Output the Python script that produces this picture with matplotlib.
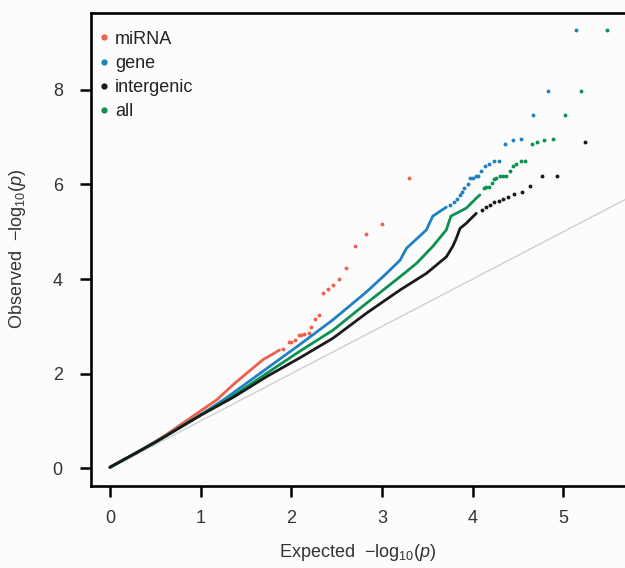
import numpy as np
import matplotlib
matplotlib.use("Agg")
import matplotlib.pyplot as plt
from matplotlib.lines import Line2D

plt.rcParams['font.family'] = ['Liberation Sans', 'DejaVu Sans']
plt.rcParams['mathtext.fontset'] = 'custom'
plt.rcParams['mathtext.rm'] = 'Liberation Sans'
plt.rcParams['mathtext.it'] = 'Liberation Sans:italic'

# dense part of each QQ curve
mirna_x = [0, 0.30, 0.62, 0.99, 1.18, 1.36, 1.54, 1.69, 1.80, 1.87]
mirna_y = [0.03, 0.33, 0.71, 1.20, 1.45, 1.77, 2.06, 2.30, 2.42, 2.50]
gene_x = [0, 0.50, 1.00, 1.27, 1.73, 2.09, 2.46, 2.83, 3.05, 3.20, 3.27, 3.49, 3.56, 3.71]
gene_y = [0.02, 0.55, 1.13, 1.47, 2.11, 2.61, 3.14, 3.73, 4.12, 4.40, 4.65, 5.04, 5.33, 5.52]
inter_x = [0, 0.50, 1.00, 1.36, 1.73, 2.09, 2.46, 2.83, 3.20, 3.49, 3.71, 3.78, 3.82, 3.86, 3.93, 4.04]
inter_y = [0.02, 0.55, 1.12, 1.50, 1.94, 2.33, 2.75, 3.28, 3.77, 4.12, 4.47, 4.69, 4.86, 5.07, 5.18, 5.39]
all_x = [0, 0.50, 1.00, 1.32, 1.73, 2.09, 2.46, 2.83, 3.20, 3.38, 3.56, 3.71, 3.76, 3.86, 3.93, 4.04, 4.08]
all_y = [0.02, 0.55, 1.13, 1.48, 2.01, 2.47, 2.92, 3.49, 4.05, 4.33, 4.69, 5.04, 5.33, 5.43, 5.50, 5.71, 5.78]

# sparse tails (individual points)
mirna_tx = [1.91, 1.98, 2.00, 2.04, 2.08, 2.11, 2.14, 2.19, 2.22, 2.26, 2.30, 2.35, 2.40, 2.46,
            2.53, 2.60, 2.70, 2.82, 3.00, 3.30]
mirna_ty = [2.52, 2.66, 2.68, 2.71, 2.82, 2.82, 2.84, 2.85, 2.99, 3.15, 3.25, 3.70, 3.79, 3.88,
            4.01, 4.24, 4.69, 4.95, 5.16, 6.13]
gene_tx = [3.75, 3.79, 3.83, 3.86, 3.88, 3.91, 3.95, 3.97, 4.00, 4.04, 4.06, 4.09, 4.14, 4.18,
           4.23, 4.29, 4.36, 4.44, 4.53, 4.66, 4.83, 5.14]
gene_ty = [5.56, 5.63, 5.70, 5.78, 5.85, 5.92, 6.02, 6.13, 6.13, 6.18, 6.18, 6.29, 6.39, 6.44,
           6.50, 6.50, 6.86, 6.93, 6.96, 7.47, 7.97, 9.27]
inter_tx = [4.10, 4.15, 4.19, 4.24, 4.29, 4.34, 4.39, 4.46, 4.54, 4.63, 4.76, 4.93, 5.24]
inter_ty = [5.46, 5.53, 5.57, 5.62, 5.66, 5.69, 5.73, 5.79, 5.83, 5.97, 6.18, 6.18, 6.90]
all_tx = [4.13, 4.15, 4.18, 4.21, 4.24, 4.26, 4.30, 4.34, 4.37, 4.41, 4.45, 4.48, 4.53, 4.58,
          4.65, 4.71, 4.79, 4.89, 5.02, 5.19, 5.48]
all_ty = [5.92, 5.95, 5.95, 6.04, 6.11, 6.13, 6.18, 6.18, 6.18, 6.29, 6.39, 6.44, 6.50, 6.50,
          6.86, 6.90, 6.93, 6.96, 7.47, 7.97, 9.27]

labels = ['miRNA', 'gene', 'intergenic', 'all']
colors = ['#ef5f4b', '#1f80c3', '#1a1a1a', '#0b9150']
xticks = [0, 1, 2, 3, 4, 5]
yticks = [0, 2, 4, 6, 8]

fig = plt.figure(figsize=(6.25, 5.68), dpi=100, facecolor='#fcfcfd')
ax = fig.add_axes([0.145, 0.1444, 0.855, 0.8332])
ax.set_facecolor('#fcfcfd')

ax.plot([0, 6], [0, 6], color='#cfcfcf', lw=1.0, zorder=1)

series = [(mirna_x, mirna_y, mirna_tx, mirna_ty),
          (gene_x, gene_y, gene_tx, gene_ty),
          (all_x, all_y, all_tx, all_ty),
          (inter_x, inter_y, inter_tx, inter_ty)]
cols = [colors[0], colors[1], colors[3], colors[2]]
for (lx, ly, tx, ty), c in zip(series, cols):
    ax.plot(lx, ly, color=c, lw=2.0, solid_capstyle='round', zorder=2)
    ax.plot(tx, ty, 'o', color=c, ms=2.8, mew=0, zorder=2)

ax.set_xlim(-0.213, 5.68)
ax.set_ylim(-0.374, 9.63)
ax.set_xticks(xticks)
ax.set_yticks(yticks)
ax.spines['right'].set_visible(False)
for s in ['left', 'top', 'bottom']:
    ax.spines[s].set_linewidth(1.9)
    ax.spines[s].set_color('black')
ax.tick_params(axis='both', length=8, width=1.8, color='black',
               labelsize=13, labelcolor='#333333')
ax.tick_params(axis='x', pad=9)
ax.tick_params(axis='y', pad=12)

ax.set_xlabel(r'Expected  $-\mathrm{log}_{10}(p)$', fontsize=13, color='#333333')
ax.set_ylabel(r'Observed  $-\mathrm{log}_{10}(p)$', fontsize=13, color='#333333')
ax.xaxis.set_label_coords(0.5, -0.118)
ax.yaxis.set_label_coords(-0.118, 0.5)

handles = [Line2D([], [], ls='', marker='o', ms=4.5, mew=0, color=c) for c in colors]
ax.legend(handles, labels, loc='upper left', bbox_to_anchor=(0.015, 0.962),
          frameon=False, fontsize=13, handlelength=0.6, handletextpad=0.3,
          labelspacing=0.4, borderpad=0, borderaxespad=0, labelcolor='#222222')

fig.savefig('out.png', dpi=100, facecolor=fig.get_facecolor())
